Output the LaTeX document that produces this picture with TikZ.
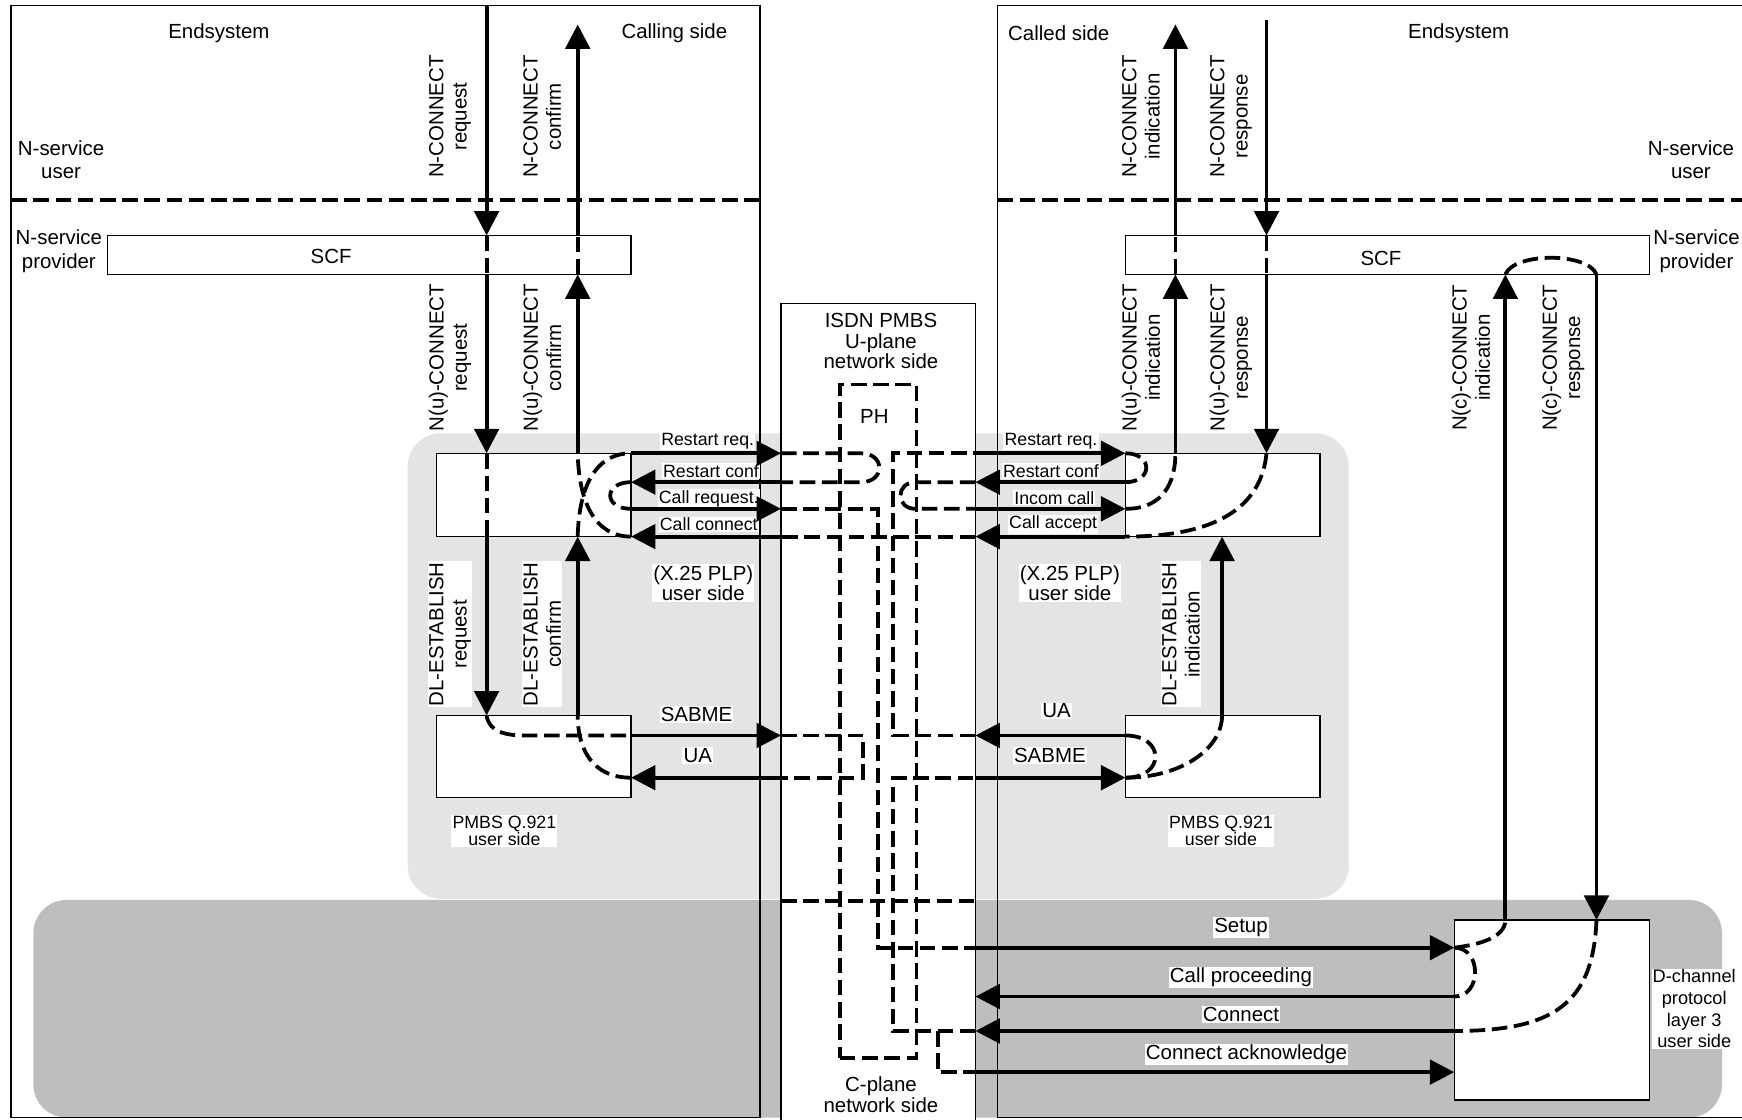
\documentclass[tikz,border=0pt]{standalone}
\usepackage{fontspec}
\setmainfont{Liberation Sans}
\usetikzlibrary{arrows.meta,fit,positioning}

\definecolor{uzone}{HTML}{E4E4E4}
\definecolor{czone}{HTML}{BEBEBE}

\tikzset{
  outline/.style={draw,line width=0.6pt,inner sep=0pt,outer sep=0pt},
  box/.style={outline,fill=white},
  sig/.style={line width=1.7pt,-{Triangle[length=11pt,width=11pt]}},
  flow/.style={line width=1.7pt,dash pattern=on 7pt off 3pt},
  lbl/.style={font=\fontsize{9.2}{10.5}\selectfont,align=center,inner sep=0.5pt},
  tag/.style={lbl,fill=white},
  msg/.style={font=\fontsize{8}{9}\selectfont,fill=white,inner sep=0.5pt},
  vlbl/.style={tag,rotate=90},
}

\begin{document}
\begin{tikzpicture}[x=0.5pt,y=-0.5pt]
\useasboundingbox (0,0) rectangle (1568,1008);

% shaded planes
\fill[uzone,rounded corners=15pt] (367,390) rectangle (1214,809);
\fill[czone,rounded corners=15pt] (30,810) rectangle (1550,1006);

% end systems and network
\node[outline,fit={(10,5)(684,1006)}] (callL) {};
\node[outline,fit={(898,5)(1580,1006)}] (callR) {};
\node[box,fit={(703,273)(878,1015)}] (isdn) {};

% rows and lanes
\coordinate (usr) at (0,180);
\coordinate (topTip) at (0,22);
\coordinate (topIn) at (0,18);
\coordinate (rw1) at (0,408);
\coordinate (rw2) at (0,434);
\coordinate (rw3) at (0,458);
\coordinate (rw4) at (0,483);
\coordinate (rwS) at (0,662);
\coordinate (rwU) at (0,700);
\coordinate (rwP) at (0,811);
\coordinate (rwSe) at (0,853);
\coordinate (rwCp) at (0,897);
\coordinate (rwCn) at (0,928);
\coordinate (rwCa) at (0,965);
\coordinate (lnA) at (438,0);
\coordinate (lnB) at (520,0);
\coordinate (lnC) at (1058,0);
\coordinate (lnD) at (1140,0);
\coordinate (lnE) at (1100,0);
\coordinate (lnF) at (1355,0);
\coordinate (lnG) at (1437,0);

\draw[flow] (callL.west |- usr) -- (callL.east |- usr);
\draw[flow] (callR.west |- usr) -- (1568,180);

% entities
\node[box,fit={(97,212)(568,247)}] (scfL) {};
\node[box,fit={(1013,212)(1485,247)}] (scfR) {};
\node[box,fit={(393,408)(568,483)}] (x25L) {};
\node[box,fit={(1013,408)(1188,483)}] (x25R) {};
\node[box,fit={(393,644)(568,718)}] (q921L) {};
\node[box,fit={(1013,644)(1188,718)}] (q921R) {};
\node[box,fit={(1309,828)(1485,990)}] (dch) {};
\node[outline,flow,fit={(756,346)(825,952)}] (ph) {};

% texts
\node[lbl] (esL) at (197,30) {Endsystem};
\node[lbl] (sideL) at (607,30) {Calling side};
\node[lbl] (sideR) at (953,30) {Called side};
\node[lbl] (esR) at (1313,30) {Endsystem};
\node[lbl] (usrL) at (55,144) {N-service\\user};
\node[lbl] (usrR) at (1522,144) {N-service\\user};
\node[lbl] (prvL) at (53,226) {N-service\\provider};
\node[lbl] (prvR) at (1527,226) {N-service\\provider};
\node[lbl] (scfLt) at (298,231) {SCF};
\node[lbl] (scfRt) at (1243,233) {SCF};

\node[vlbl] (vA1) at (405,105) {N-CONNECT\\request};
\node[vlbl] (vB1) at (488,105) {N-CONNECT\\confirm};
\node[vlbl] (vA2) at (405,322) {N(u)-CONNECT\\request};
\node[vlbl] (vB2) at (488,322) {N(u)-CONNECT\\confirm};
\node[vlbl] (vA3) at (405,571) {DL-ESTABLISH\\request};
\node[vlbl] (vB3) at (488,571) {DL-ESTABLISH\\confirm};
\node[vlbl] (vC1) at (1027,105) {N-CONNECT\\indication};
\node[vlbl] (vD1) at (1108,105) {N-CONNECT\\response};
\node[vlbl] (vC2) at (1027,322) {N(u)-CONNECT\\indication};
\node[vlbl] (vD2) at (1108,322) {N(u)-CONNECT\\response};
\node[vlbl] (vF2) at (1324,322) {N(c)-CONNECT\\indication};
\node[vlbl] (vG2) at (1407,322) {N(c)-CONNECT\\response};
\node[vlbl] (vE3) at (1063,571) {DL-ESTABLISH\\indication};

\node[msg] (mRqL) at (637,397) {Restart req.};
\node[msg] (mCfL) at (640,424) {Restart conf};
\node[msg] (mCrL) at (638,449) {Call request.};
\node[msg] (mCcL) at (638,472) {Call connect};
\node[msg] (mRqR) at (946,397) {Restart req.};
\node[msg] (mCfR) at (946,424) {Restart conf};
\node[msg] (mIcR) at (949,448) {Incom call};
\node[msg] (mCaR) at (948,472) {Call accept};

\node[tag] (mSbL) at (627,643) {SABME};
\node[tag] (mUaL) at (628,680) {UA};
\node[tag] (mUaR) at (951,640) {UA};
\node[tag] (mSbR) at (945,680) {SABME};

\node[tag,font=\fontsize{9.2}{9.2}\selectfont] (x25Lt) at (633,525) {(X.25 PLP)\\user side};
\node[tag,font=\fontsize{9.2}{9.2}\selectfont] (x25Rt) at (963,525) {(X.25 PLP)\\user side};
\node[tag,font=\fontsize{8}{7.6}\selectfont] (q921Lt) at (454,748) {PMBS Q.921\\user side};
\node[tag,font=\fontsize{8}{7.6}\selectfont] (q921Rt) at (1099,748) {PMBS Q.921\\user side};
\node[tag,font=\fontsize{8.2}{9.7}\selectfont] (dchT) at (1525,908) {D-channel\\protocol\\layer 3\\user side};
\node[lbl,font=\fontsize{9.2}{9.3}\selectfont] (isdnT) at (793,307) {ISDN PMBS\\U-plane\\network side};
\node[lbl] (phT) at (787,375) {PH};
\node[lbl,font=\fontsize{9.2}{9.5}\selectfont] (cplT) at (793,985) {C-plane\\network side};

\node[tag] (mSe) at (1117,835) {Setup};
\node[tag] (mCp) at (1117,880) {Call proceeding};
\node[tag] (mCn) at (1117,913) {Connect};
\node[tag] (mCa) at (1122,949) {Connect acknowledge};

% calling side primitives
\draw[sig] (lnA |- callL.north) -- (lnA |- scfL.north);
\draw[flow] (lnA |- scfL.north) -- (lnA |- scfL.south);
\draw[sig] (lnA |- scfL.south) -- (lnA |- x25L.north);
\draw[flow] (lnA |- x25L.north) -- (lnA |- x25L.south);
\draw[sig] (lnA |- x25L.south) -- (lnA |- q921L.north);
\draw[sig] (lnB |- scfL.north) -- (lnB |- topTip);
\draw[flow] (lnB |- scfL.south) -- (lnB |- scfL.north);
\draw[sig] (lnB |- x25L.north) -- (lnB |- scfL.south);
\draw[sig] (lnB |- q921L.north) -- (lnB |- x25L.south);

% called side primitives
\draw[sig] (lnC |- scfR.north) -- (lnC |- topTip);
\draw[flow] (lnC |- scfR.south) -- (lnC |- scfR.north);
\draw[sig] (lnC |- x25R.north) -- (lnC |- scfR.south);
\draw[sig] (lnD |- topIn) -- (lnD |- scfR.north);
\draw[flow] (lnD |- scfR.north) -- (lnD |- scfR.south);
\draw[sig] (lnD |- scfR.south) -- (lnD |- x25R.north);
\draw[sig] (lnE |- q921R.north) -- (lnE |- x25R.south);
\draw[sig] (lnF |- dch.north) -- (lnF |- scfR.south);
\draw[sig] (lnG |- scfR.south) -- (lnG |- dch.north);
\draw[flow] (lnF |- scfR.south) .. controls +(8,-20) and +(-8,-20) .. (lnG |- scfR.south);

% X.25 packets
\draw[sig] (x25L.east |- rw1) -- (isdn.west |- rw1);
\draw[sig] (isdn.west |- rw2) -- (x25L.east |- rw2);
\draw[sig] (x25L.east |- rw3) -- (isdn.west |- rw3);
\draw[sig] (isdn.west |- rw4) -- (x25L.east |- rw4);
\draw[sig] (isdn.east |- rw1) -- (x25R.west |- rw1);
\draw[sig] (x25R.west |- rw2) -- (isdn.east |- rw2);
\draw[sig] (isdn.east |- rw3) -- (x25R.west |- rw3);
\draw[sig] (x25R.west |- rw4) -- (isdn.east |- rw4);

% Q.921 frames
\draw[sig] (q921L.east |- rwS) -- (isdn.west |- rwS);
\draw[sig] (isdn.west |- rwU) -- (q921L.east |- rwU);
\draw[sig] (q921R.west |- rwS) -- (isdn.east |- rwS);
\draw[sig] (isdn.east |- rwU) -- (q921R.west |- rwU);

% D-channel messages
\draw[sig] (isdn.east |- rwSe) -- (dch.west |- rwSe);
\draw[sig] (dch.west |- rwCp) -- (isdn.east |- rwCp);
\draw[sig] (dch.west |- rwCn) -- (isdn.east |- rwCn);
\draw[sig] (isdn.east |- rwCa) -- (dch.west |- rwCa);

% internal sequences, calling side
\draw[flow] (lnB |- x25L.south) .. controls +(1,-43) and +(-33,0) .. (x25L.east |- rw1);
\draw[flow] (x25L.east |- rw2) .. controls +(-25,0) and +(-25,0) .. (x25L.east |- rw3);
\draw[flow] (x25L.east |- rw4) .. controls +(-33,0) and +(1,43) .. (lnB |- x25L.north);
\draw[flow] (lnA |- q921L.north) .. controls +(2,15) and +(-16,0) .. (472,662) -- (q921L.east |- rwS);
\draw[flow] (q921L.east |- rwU) .. controls +(-35,0) and +(0,30) .. (lnB |- q921L.north);

% internal sequences, called side
\draw[flow] (x25R.west |- rw1) .. controls +(25,0) and +(25,0) .. (x25R.west |- rw2);
\draw[flow] (x25R.west |- rw3) .. controls +(35,0) and +(0,25) .. (lnC |- x25R.north);
\draw[flow] (lnD |- x25R.north) .. controls +(-5,50) and +(80,0) .. (x25R.west |- rw4);
\draw[flow] (q921R.west |- rwS) .. controls +(36,0) and +(36,0) .. (q921R.west |- rwU);
\draw[flow] (q921R.west |- rwU) .. controls +(50,0) and +(0,30) .. (lnE |- q921R.north);
\draw[flow] (dch.west |- rwSe) .. controls +(25,0) and +(25,0) .. (dch.west |- rwCp);
\draw[flow] (dch.west |- rwSe) .. controls +(25,-3) and +(0,15) .. (lnF |- dch.north);
\draw[flow] (lnG |- dch.north) .. controls +(-3,75) and +(90,0) .. (dch.west |- rwCn);

% network side
\draw[flow] (isdn.west |- rw1) -- (775,408) .. controls (797,408) and (797,434) .. (775,434) -- (isdn.west |- rw2);
\draw[flow] (isdn.west |- rw3) -- (790,458) -- (790,853) -- (isdn.east |- rwSe);
\draw[flow] (isdn.east |- rw4) -- (isdn.west |- rw4);
\draw[flow] (isdn.east |- rwS) -- (804,662) -- (804,408) -- (isdn.east |- rw1);
\draw[flow] (isdn.east |- rw2) -- (824,434) .. controls (806,434) and (806,458) .. (824,458) -- (isdn.east |- rw3);
\draw[flow] (isdn.west |- rwS) -- (777,662) -- (777,700) -- (isdn.west |- rwU);
\draw[flow] (isdn.east |- rwCn) -- (804,928) -- (804,700) -- (isdn.east |- rwU);
\draw[flow] (844,928) -- (844,965) -- (isdn.east |- rwCa);
\draw[flow] (isdn.west |- rwP) -- (isdn.east |- rwP);
\end{tikzpicture}
\end{document}
